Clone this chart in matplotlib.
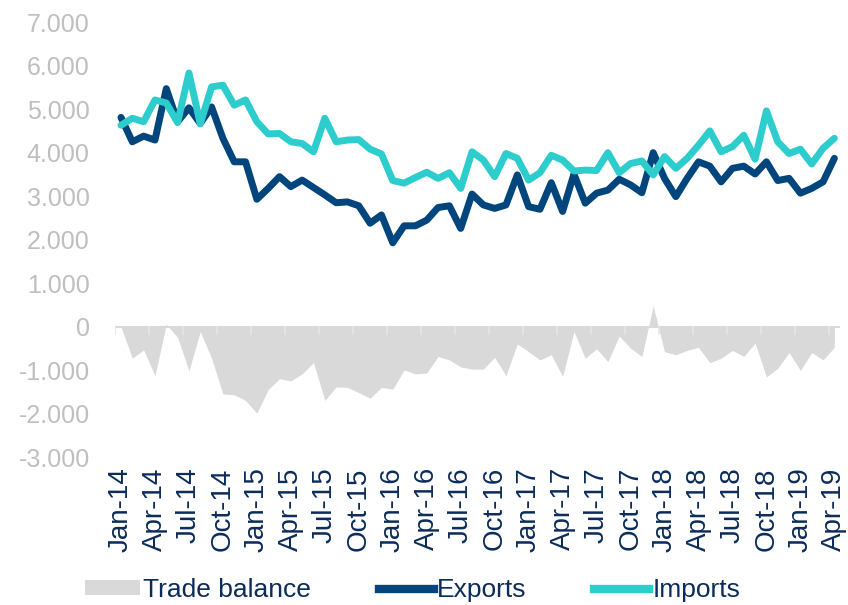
import matplotlib
matplotlib.use("Agg")
import matplotlib.pyplot as plt
from matplotlib.patches import Patch
from matplotlib.lines import Line2D
from matplotlib.ticker import FuncFormatter, FixedLocator
import numpy as np

plt.rcParams["font.family"] = ["Liberation Sans", "DejaVu Sans"]

# Monthly series, Jan-14 .. Apr-19 (values in millions)
months = ["Jan", "Feb", "Mar", "Apr", "May", "Jun",
          "Jul", "Aug", "Sep", "Oct", "Nov", "Dec"]
labels = [f"{months[k % 12]}-{14 + k // 12}" for k in range(64)]

exports = [4810, 4250, 4380, 4290, 5470, 4710, 5030, 4670, 5050, 4330,
           3790, 3790, 2930, 3180, 3450, 3220, 3370, 3200, 3030, 2850,
           2870, 2780, 2380, 2570, 1930, 2320, 2320, 2450, 2740, 2780,
           2260, 3050, 2800, 2720, 2800, 3490, 2760, 2700, 3310, 2650,
           3510, 2840, 3070, 3140, 3390, 3260, 3080, 4000, 3410, 2990,
           3410, 3790, 3690, 3330, 3640, 3690, 3510, 3790, 3360, 3410,
           3070, 3180, 3330, 3870]

imports = [4630, 4790, 4710, 5210, 5140, 4690, 5830, 4660, 5510, 5550,
           5090, 5210, 4710, 4430, 4440, 4250, 4210, 4020, 4790, 4250,
           4290, 4300, 4080, 3970, 3360, 3300, 3430, 3550, 3410, 3540,
           3180, 4020, 3830, 3450, 3980, 3870, 3370, 3540, 3940, 3830,
           3580, 3600, 3590, 4000, 3540, 3750, 3810, 3490, 3910, 3640,
           3870, 4170, 4500, 4020, 4140, 4400, 3850, 4960, 4250, 3980,
           4080, 3740, 4100, 4330]

trade_balance = [0, -720, -530, -1120, 60, -240, -1010, -110, -720, -1540,
                 -1560, -1690, -1980, -1440, -1190, -1240, -1080, -820, -1690, -1380,
                 -1390, -1510, -1640, -1390, -1430, -990, -1080, -1060, -680, -760,
                 -920, -970, -970, -700, -1120, -390, -570, -760, -640, -1140,
                 -110, -720, -500, -800, -210, -490, -680, 480, -570, -640,
                 -540, -470, -820, -720, -540, -680, -370, -1150, -950, -590,
                 -1000, -590, -760, -470]

NAVY = "#00457C"
CYAN = "#2ECDCD"
GREY = "#D9D9D9"
TEXT_NAVY = "#0B2C5A"
TICK_GREY = "#BFBFBF"

x = np.arange(len(labels))

fig = plt.figure(figsize=(8.48, 6.05), dpi=100)
ax = fig.add_axes([0.136, 0.2438, 0.8546, 0.7198])

ax.fill_between(x, 0, trade_balance, color=GREY, linewidth=0, zorder=1)
ax.plot(x, exports, color=NAVY, lw=5, solid_joinstyle="round",
        solid_capstyle="round", zorder=3)
ax.plot(x, imports, color=CYAN, lw=5, solid_joinstyle="round",
        solid_capstyle="round", zorder=4)

# horizontal category axis at zero with quarterly tick marks between categories
ax.axhline(0, color=GREY, lw=1.5, zorder=2)
for b in np.arange(-0.5, len(labels), 3):
    ax.plot([b, b], [0, -160], color="#E6E6E6", lw=1.2, zorder=2)

ax.set_xlim(-0.5, len(labels) - 0.5)
ax.set_ylim(-3000, 7000)

for s in ax.spines.values():
    s.set_visible(False)

ax.yaxis.set_major_locator(FixedLocator(np.arange(-3000, 7001, 1000)))
ax.yaxis.set_major_formatter(FuncFormatter(
    lambda v, p: f"{int(v):,}".replace(",", ".")))
ax.tick_params(axis="y", length=0, pad=18.5, labelsize=18, labelcolor=TICK_GREY)

tick_idx = x[::3]
ax.set_xticks(tick_idx)
ax.set_xticklabels([labels[i] for i in tick_idx], rotation=90)
ax.tick_params(axis="x", length=0, pad=7, labelsize=20, labelcolor=TEXT_NAVY)

handles = [Patch(facecolor=GREY, edgecolor="none"),
           Line2D([], [], color=NAVY, lw=6),
           Line2D([], [], color=CYAN, lw=6)]
fig.legend(handles, ["Trade balance", "Exports", "Imports"],
           loc="center", bbox_to_anchor=(0.4865, 0.025), ncol=3, frameon=False,
           fontsize=19, labelcolor=TEXT_NAVY, handlelength=2.1,
           handleheight=0.45, handletextpad=0.12, columnspacing=2.55)

fig.savefig("out.png", dpi=100)
